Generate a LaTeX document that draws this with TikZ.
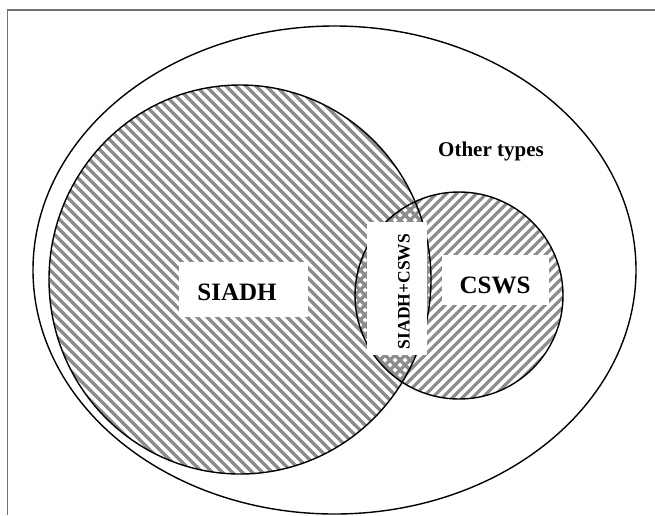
\documentclass[tikz,border=0pt]{standalone}
\usepackage{fontspec}
\setmainfont{Liberation Serif}
\tikzset{
  outline/.style={draw=black, line width=1.4pt},
  hatch/.style={draw=black!45, line width=3.2pt},
  labelbox/.style={fill=white, inner sep=0pt},
  bigtext/.style={inner sep=0pt, font=\bfseries\fontsize{25}{28}\selectfont},
}
\begin{document}
\begin{tikzpicture}[x=1pt,y=-1pt]
\useasboundingbox (0,0) rectangle (655,515);
% frame
\draw[black!55, line width=1.3pt] (7.5,515) -- (7.5,10) -- (655,10);
% SIADH hatching
\begin{scope}
  \clip (240,279.5) ellipse (191 and 194.5);
  \foreach \c in {-600,-590,...,700} {\draw[hatch] (\c,0) -- ++(600,600);}
\end{scope}
% CSWS hatching
\begin{scope}
  \clip (459,295.5) ellipse (104 and 103.5);
  \foreach \c in {-300,-290,...,900} {\draw[hatch] (\c,600) -- ++(600,-600);}
\end{scope}
% outlines
\draw[outline] (334.5,270) ellipse (301.5 and 244);
\draw[outline] (240,279.5) ellipse (191 and 194.5);
\draw[outline] (459,295.5) ellipse (104 and 103.5);
% label boxes
\node[labelbox, minimum width=129pt, minimum height=55pt] (siadhbox) at (243.5,289.5) {};
\node[bigtext] (siadh) at (237,292) {SIADH};
\node[labelbox, minimum width=107pt, minimum height=50pt] (cswsbox) at (495.5,280) {};
\node[bigtext] (csws) at (495,285) {CSWS};
\node[labelbox, minimum width=60pt, minimum height=133pt] (bothbox) at (397,288.5) {};
\node[inner sep=0pt, rotate=90, font=\bfseries\fontsize{17.5}{20}\selectfont] (both) at (404,291.5) {SIADH+CSWS};
\node[font=\bfseries\fontsize{21}{24}\selectfont] (other) at (491,151) {Other types};
\end{tikzpicture}
\end{document}
